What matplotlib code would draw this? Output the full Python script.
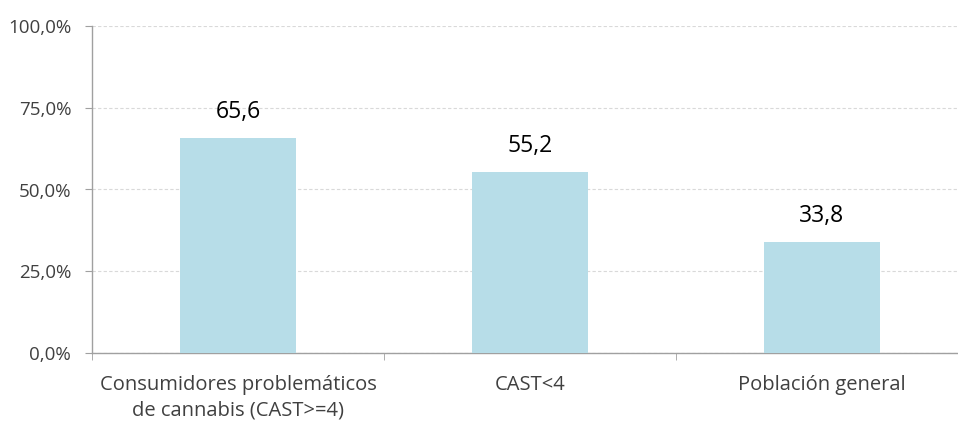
import matplotlib
matplotlib.use("Agg")
import matplotlib.pyplot as plt

categories = ["Consumidores problemáticos\nde cannabis (CAST>=4)", "CAST<4", "Población general"]
values = [65.6, 55.2, 33.8]
yticks = [0, 25, 50, 75, 100]
ytick_labels = ["0,0%", "25,0%", "50,0%", "75,0%", "100,0%"]

plt.rcParams["font.family"] = ["Open Sans", "DejaVu Sans"]

fig = plt.figure(figsize=(9.58, 4.23), dpi=100)
ax = fig.add_axes([92 / 958, 70 / 423, 876 / 958, 327 / 423])

x = range(len(categories))
ax.bar(x, values, width=0.4, color="#b7dde8", zorder=3)

for xi, v in zip(x, values):
    ax.text(xi, v + 4.5, f"{v:.1f}".replace(".", ","), ha="center", va="bottom",
            fontsize=16.5, color="#000000")

ax.set_xlim(-0.5, 2.5)
ax.set_ylim(0, 100)
ax.set_yticks(yticks)
ax.set_yticklabels(ytick_labels, fontsize=13.5, color="#404040")
ax.set_xticks(list(x))
ax.set_xticklabels(categories, fontsize=14.5, color="#404040", linespacing=1.35)
ax.tick_params(axis="x", length=0, pad=16)
ax.set_xticks([-0.5, 0.5, 1.5], minor=True)
ax.tick_params(axis="x", which="minor", length=5, color="#a0a0a0", direction="out")
ax.tick_params(axis="y", length=5, color="#a0a0a0", pad=10)

ax.grid(axis="y", linestyle=(0, (3, 2)), color="#d9d9d9", linewidth=0.8, zorder=0)
for s in ["top", "right"]:
    ax.spines[s].set_visible(False)
for s in ["left", "bottom"]:
    ax.spines[s].set_color("#a0a0a0")
    ax.spines[s].set_linewidth(1)

fig.savefig("out.png", dpi=100)
